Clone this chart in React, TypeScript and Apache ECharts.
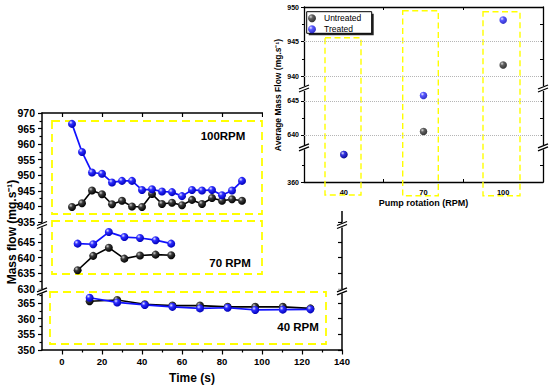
import React, { useEffect, useRef } from 'react';
import * as echarts from 'echarts';

const FONT = '"Liberation Sans", Arial, Helvetica, sans-serif';

// ---- Main chart data: mass flow vs time ----
const time100 = [5, 10, 15, 20, 25, 30, 35, 40, 45, 50, 55, 60, 65, 70, 75, 80, 85, 90];
const untreated100 = [939.8, 941.0, 945.1, 943.9, 940.7, 941.8, 940.0, 939.8, 944.0, 940.8, 941.2, 940.4, 942.1, 940.8, 942.7, 941.8, 942.3, 941.8];
const treated100 = [966.5, 957.5, 950.9, 950.5, 947.7, 948.2, 948.2, 945.3, 945.5, 944.8, 944.6, 943.3, 945.3, 945.1, 945.3, 943.6, 945.1, 948.2];

const time70 = [7.8, 15.6, 23.4, 31.2, 39, 46.8, 54.6];
const untreated70 = [636.0, 640.6, 643.2, 639.7, 640.7, 641.0, 640.8];
const treated70 = [644.5, 644.3, 648.2, 646.6, 646.3, 645.6, 644.5];

const time40 = [13.8, 27.6, 41.4, 55.2, 69, 82.8, 96.6, 110.4, 124.2];
const untreated40 = [365.6, 366.0, 364.6, 364.2, 364.2, 363.8, 363.8, 363.8, 363.3];
const treated40 = [366.7, 365.2, 364.4, 363.8, 363.3, 363.5, 362.8, 362.9, 363.0];

// ---- Inset data: average mass flow vs pump rotation ----
const pumpRpm = ['40', '70', '100'];
const avgUntreated = [364.0, 640.5, 941.6];
const avgTreated = [364.0, 645.8, 948.1];

// ---- Tick values ----
const timeTicks = [0, 20, 40, 60, 80, 100, 120, 140];
const timeMinorTicks = [10, 30, 50, 70, 90, 110, 130];
const flowTicksTop = [935, 940, 945, 950, 955, 960, 965, 970];
const flowMinorTop = [937.5, 942.5, 947.5, 952.5, 957.5, 962.5, 967.5];
const flowTicksMid = [630, 635, 640, 645];
const flowMinorMid = [632.5, 637.5, 642.5, 647.5];
const flowTicksBot = [350, 355, 360, 365];
const flowMinorBot = [352.5, 357.5, 362.5, 367.5];
const avgTicksTop = [940, 945, 950];
const avgMinorTop = [942.5, 947.5];
const avgTicksMid = [640, 645];
const avgMinorMid = [642.5];
const avgTicksBot = [360];
const avgMinorBot = [362.5];
const avgGridTop = [940, 945];
const avgGridMid = [640, 645];

const YELLOW = '#FFFF00';
const axisLine = { color: '#000', width: 1.5 };
const tickLine = { color: '#000', width: 1.2 };

const ball = (hi: string, mid: string, dark: string) =>
  new echarts.graphic.RadialGradient(0.35, 0.32, 0.7, [
    { offset: 0, color: hi },
    { offset: 0.35, color: mid },
    { offset: 1, color: dark },
  ]);
const blackBall = ball('#d0d0d0', '#3a3a3a', '#000000');
const blueBall = ball('#e6e6ff', '#2d2dff', '#0000b8');

function breakMark(x: number, y: number) {
  return {
    type: 'group',
    z: 20,
    children: [
      { type: 'rect', shape: { x: x - 5, y: y - 2, width: 10, height: 4 }, style: { fill: '#fff' }, z: 20 },
      { type: 'line', shape: { x1: x - 5, y1: y + 0.5, x2: x + 5, y2: y - 3.5 }, style: { stroke: '#000', lineWidth: 1.3 }, z: 21 },
      { type: 'line', shape: { x1: x - 5, y1: y + 3.5, x2: x + 5, y2: y - 0.5 }, style: { stroke: '#000', lineWidth: 1.3 }, z: 21 },
    ],
  };
}

function dashedBox(x: number, y: number, w: number, h: number, lw: number, dash: number[]) {
  return {
    type: 'rect',
    shape: { x, y, width: w, height: h },
    style: { fill: 'none', stroke: YELLOW, lineWidth: lw, lineDash: dash },
    z: 1,
  };
}

function label(text: string, x: number, y: number, size: number, rotation = 0, weight = 'bold') {
  return {
    type: 'text',
    x,
    y,
    rotation,
    z: 10,
    style: {
      text,
      fill: '#000',
      fontSize: size,
      fontWeight: weight,
      fontFamily: FONT,
      align: 'center',
      verticalAlign: 'middle',
    },
  };
}

function mainOption(): any {
  const tMin = -10;
  const tMax = 140;
  const segs = [
    { top: 113, height: 109, min: 935, max: 970, ticks: flowTicksTop, minor: flowMinorTop, time: time100, u: untreated100, t: treated100 },
    { top: 228, height: 61, min: 630, max: 649.5, ticks: flowTicksMid, minor: flowMinorMid, time: time70, u: untreated70, t: treated70 },
    { top: 293.7, height: 56.3, min: 350, max: 368, ticks: flowTicksBot, minor: flowMinorBot, time: time40, u: untreated40, t: treated40 },
  ];
  const grid = segs.map((s) => ({ left: 42, width: 300, top: s.top, height: s.height, containLabel: false, outerBoundsMode: 'none' }));
  const xAxis = [
    {
      gridIndex: 0, type: 'value', min: tMin, max: tMax, position: 'top',
      axisLine: { show: true, onZero: false, lineStyle: axisLine },
      axisTick: { show: true, inside: true, length: 4, customValues: timeTicks, lineStyle: tickLine },
      axisLabel: { show: false }, splitLine: { show: false },
    },
    { gridIndex: 1, type: 'value', min: tMin, max: tMax, show: false, splitLine: { show: false } },
    {
      gridIndex: 2, type: 'value', min: tMin, max: tMax, position: 'bottom',
      axisLine: { show: true, onZero: false, lineStyle: axisLine },
      axisTick: { show: true, inside: false, length: 4.5, customValues: timeTicks, lineStyle: tickLine },
      axisLabel: { customValues: timeTicks, margin: 6, fontSize: 9.5, fontWeight: 'bold', fontFamily: FONT, color: '#000' },
      splitLine: { show: false },
      name: 'Time (s)', nameLocation: 'middle', nameGap: 22,
      nameTextStyle: { fontSize: 12, fontWeight: 'bold', fontFamily: FONT, color: '#000' },
    },
    {
      gridIndex: 2, type: 'value', min: tMin, max: tMax, position: 'bottom',
      axisLine: { show: false, onZero: false },
      axisTick: { show: true, inside: false, length: 2.5, customValues: timeMinorTicks, lineStyle: tickLine },
      axisLabel: { show: false }, splitLine: { show: false },
    },
  ];
  const yAxis: any[] = [];
  segs.forEach((s, i) => {
    yAxis.push({
      gridIndex: i, type: 'value', min: s.min, max: s.max, position: 'left',
      axisLine: { show: true, onZero: false, lineStyle: axisLine },
      axisTick: { show: true, inside: false, length: 4, customValues: s.ticks, lineStyle: tickLine },
      axisLabel: { customValues: s.ticks, margin: 7, fontSize: 10.5, fontWeight: 'bold', fontFamily: FONT, color: '#000' },
      splitLine: { show: false },
    });
    yAxis.push({
      gridIndex: i, type: 'value', min: s.min, max: s.max, position: 'left',
      axisLine: { show: false, onZero: false },
      axisTick: { show: true, inside: false, length: 2.5, customValues: s.minor, lineStyle: tickLine },
      axisLabel: { show: false }, splitLine: { show: false },
    });
    yAxis.push({
      gridIndex: i, type: 'value', min: s.min, max: s.max, position: 'right',
      axisLine: { show: true, onZero: false, lineStyle: axisLine },
      axisTick: { show: true, inside: true, length: 4, customValues: s.ticks, lineStyle: tickLine },
      axisLabel: { show: false }, splitLine: { show: false },
    });
  });
  const series: any[] = [];
  segs.forEach((s, i) => {
    series.push({
      type: 'line', name: 'Untreated', xAxisIndex: i, yAxisIndex: 3 * i,
      data: s.time.map((t, k) => [t, s.u[k]]),
      symbol: 'circle', symbolSize: 8, showSymbol: true,
      lineStyle: { color: '#000', width: 1.6 }, itemStyle: { color: blackBall },
      z: 3, clip: false,
    });
    series.push({
      type: 'line', name: 'Treated', xAxisIndex: i, yAxisIndex: 3 * i,
      data: s.time.map((t, k) => [t, s.t[k]]),
      symbol: 'circle', symbolSize: 8, showSymbol: true,
      lineStyle: { color: '#1010ff', width: 1.7 }, itemStyle: { color: blueBall },
      z: 4, clip: false,
    });
  });
  const graphic = [
    dashedBox(52, 121, 210, 93, 1.8, [8, 5]),
    dashedBox(52, 221, 210, 53, 1.8, [8, 5]),
    dashedBox(50, 292, 276, 52, 1.8, [8, 5]),
    label('100RPM', 223, 136, 11.5),
    label('70 RPM', 230, 263, 11.5),
    label('40 RPM', 298, 327, 11.5),
    label('Mass flow (mg.s\u207B\u00B9)', 12, 232, 12, Math.PI / 2),
    breakMark(42, 225),
    breakMark(42, 291.3),
    breakMark(342, 225),
    breakMark(342, 291.3),
  ];
  return { animation: false, backgroundColor: '#fff', grid, xAxis, yAxis, series, graphic };
}

function insetOption(): any {
  const segs = [
    { top: 7, height: 78.7, min: 938.6, max: 950, ticks: avgTicksTop, minor: avgMinorTop, lines: avgGridTop },
    { top: 91.4, height: 54.4, min: 638.4, max: 646.4, ticks: avgTicksMid, minor: avgMinorMid, lines: avgGridMid },
    { top: 149, height: 33, min: 360, max: 364.8, ticks: avgTicksBot, minor: avgMinorBot, lines: [] as number[] },
  ];
  const insetAxis = { color: '#000', width: 1.3 };
  const insetTick = { color: '#000', width: 1 };
  const grid = segs.map((s) => ({ left: 41, width: 239, top: s.top, height: s.height, containLabel: false, outerBoundsMode: 'none' }));
  const xAxis = [
    {
      gridIndex: 0, type: 'category', data: pumpRpm, position: 'top',
      axisLine: { show: true, onZero: false, lineStyle: insetAxis },
      axisTick: { show: true, inside: true, length: 3, lineStyle: insetTick },
      axisLabel: { show: false }, splitLine: { show: false },
    },
    { gridIndex: 1, type: 'category', data: pumpRpm, show: false },
    {
      gridIndex: 2, type: 'category', data: pumpRpm, position: 'bottom',
      axisLine: { show: true, onZero: false, lineStyle: insetAxis },
      axisTick: { show: true, inside: true, length: 3, lineStyle: insetTick },
      axisLabel: { margin: 6, fontSize: 7.5, fontWeight: 'bold', fontFamily: FONT, color: '#000' },
      splitLine: { show: false },
      name: 'Pump rotation (RPM)', nameLocation: 'middle', nameGap: 16,
      nameTextStyle: { fontSize: 9, fontWeight: 'bold', fontFamily: FONT, color: '#000' },
    },
  ];
  const yAxis: any[] = [];
  segs.forEach((s, i) => {
    yAxis.push({
      gridIndex: i, type: 'value', min: s.min, max: s.max, position: 'left',
      axisLine: { show: true, onZero: false, lineStyle: insetAxis },
      axisTick: { show: true, inside: false, length: 3, customValues: s.ticks, lineStyle: insetTick },
      axisLabel: { customValues: s.ticks, margin: 5, fontSize: 7, fontWeight: 'bold', fontFamily: FONT, color: '#000' },
      splitLine: { show: false },
    });
    yAxis.push({
      gridIndex: i, type: 'value', min: s.min, max: s.max, position: 'left',
      axisLine: { show: false, onZero: false },
      axisTick: { show: true, inside: false, length: 2, customValues: s.minor, lineStyle: insetTick },
      axisLabel: { show: false }, splitLine: { show: false },
    });
    yAxis.push({
      gridIndex: i, type: 'value', min: s.min, max: s.max, position: 'right',
      axisLine: { show: true, onZero: false, lineStyle: insetAxis },
      axisTick: { show: true, inside: true, length: 3, customValues: s.ticks.concat(s.minor), lineStyle: insetTick },
      axisLabel: { show: false }, splitLine: { show: false },
    });
  });
  const inRange = (arr: number[], lo: number, hi: number) => arr.map((v) => (v >= lo && v <= hi ? v : '-'));
  const series: any[] = [];
  segs.forEach((s, i) => {
    series.push({
      type: 'scatter', name: 'Untreated', xAxisIndex: i, yAxisIndex: 3 * i,
      data: inRange(avgUntreated, s.min, s.max),
      symbol: 'circle', symbolSize: 7.5, itemStyle: { color: blackBall }, z: 3,
      markLine: s.lines.length
        ? {
            silent: true, symbol: 'none', label: { show: false },
            lineStyle: { color: '#b5b5b5', type: 'dotted', width: 1 },
            emphasis: { disabled: true },
            data: s.lines.map((v) => ({ yAxis: v })),
          }
        : undefined,
    });
    series.push({
      type: 'scatter', name: 'Treated', xAxisIndex: i, yAxisIndex: 3 * i,
      data: inRange(avgTreated, s.min, s.max),
      symbol: 'circle', symbolSize: 7.5, itemStyle: { color: blueBall }, z: 4,
    });
  });
  const legend = {
    data: ['Untreated', 'Treated'], orient: 'vertical', left: 44, top: 12.5,
    icon: 'circle', itemWidth: 18, itemHeight: 8, itemGap: 1.5,
    padding: [1, 0, 0, 1],
    backgroundColor: 'transparent', borderWidth: 0, z: 12,
    textStyle: { fontSize: 8.5, lineHeight: 9.5, fontFamily: FONT, color: '#000', padding: [0, 0, 0, -2] },
  };
  const graphic = [
    dashedBox(62, 37.7, 36, 157.3, 1.4, [6, 3.5]),
    dashedBox(139.7, 10.7, 35.6, 185, 1.4, [6, 3.5]),
    dashedBox(220, 11.7, 37, 184, 1.4, [6, 3.5]),
    { type: 'rect', shape: { x: 45.7, y: 13.7, width: 65, height: 21.6 }, style: { fill: '#222' }, z: 5 },
    { type: 'rect', shape: { x: 43.7, y: 11.7, width: 65, height: 21.6 }, style: { fill: '#fff', stroke: '#000', lineWidth: 1 }, z: 6 },
    label('Average Mass Flow (mg.s\u207B\u00B9)', 15, 95, 8.5, Math.PI / 2),
    breakMark(41, 88.5),
    breakMark(41, 147.4),
    breakMark(280, 88.5),
    breakMark(280, 147.4),
  ];
  return { animation: false, backgroundColor: '#fff', grid, xAxis, yAxis, series, legend, graphic };
}

export default function App() {
  const mainRef = useRef<HTMLDivElement>(null);
  const insetRef = useRef<HTMLDivElement>(null);
  useEffect(() => {
    const main = echarts.init(mainRef.current!, undefined, { renderer: 'svg' });
    main.setOption(mainOption());
    const inset = echarts.init(insetRef.current!, undefined, { renderer: 'svg' });
    inset.setOption(insetOption());
    return () => {
      main.dispose();
      inset.dispose();
    };
  }, []);
  return (
    <div style={{ position: 'absolute', left: 0, top: 0, width: 550, height: 389, background: '#fff' }}>
      <div ref={mainRef} style={{ position: 'absolute', left: 0, top: 0, width: 550, height: 389 }} />
      <div ref={insetRef} style={{ position: 'absolute', left: 263, top: 0, width: 287, height: 211, background: '#fff' }} />
    </div>
  );
}
